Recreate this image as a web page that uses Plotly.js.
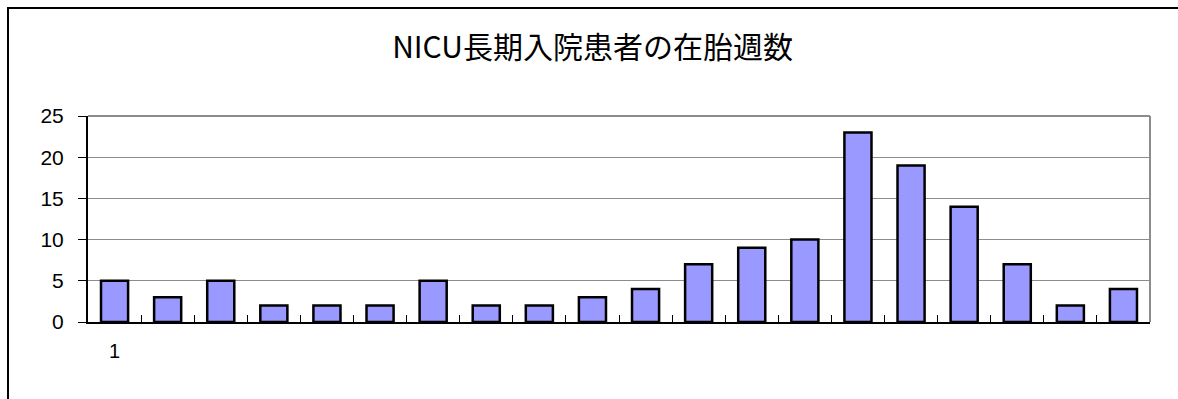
<!DOCTYPE html>
<html>
<head>
<meta charset="utf-8">
<script src="https://cdn.plot.ly/plotly-3.0.1.min.js"></script>
<style>
html,body{margin:0;padding:0;background:#fff;overflow:hidden;}
#chart{position:absolute;left:0;top:0;width:1178px;height:399px;}
#frame{position:absolute;left:7px;top:7px;width:1200px;height:420px;border:2px solid #000;box-sizing:border-box;pointer-events:none;}
</style>
</head>
<body>
<div id="chart"></div>
<div id="frame"></div>
<script>
const categories = ["1","2","3","4","5","6","7","8","9","10","11","12","13","14","15","16","17","18","19","20"];
const tickLabels = ["1","","","","","","","","","","","","","","","","","","",""];
const values = [5,3,5,2,2,2,5,2,2,3,4,7,9,10,23,19,14,7,2,4];
const titleText = "NICU長期入院患者の在胎週数";

const font = "'Liberation Sans', Arial, sans-serif";

Plotly.newPlot('chart', [{
  type: 'bar',
  x: categories,
  y: values,
  marker: {color: '#9999FF', line: {color: '#000', width: 2.5}},
  hoverinfo: 'none'
}], {
  width: 1178, height: 399,
  margin: {l: 88, r: 28, t: 116, b: 77, pad: 0},
  paper_bgcolor: '#fff', plot_bgcolor: '#fff',
  bargap: 0.49,
  showlegend: false,
  title: {text: titleText, font: {family: "'Noto Sans CJK JP', sans-serif", size: 30, color: '#000'}, x: 0.503, xanchor: 'center', y: 0.88, yanchor: 'middle'},
  xaxis: {
    type: 'category',
    tickmode: 'array', tickvals: categories, ticktext: tickLabels,
    tickson: 'boundaries', ticks: 'inside', ticklen: 7, tickcolor: '#000', tickwidth: 1,
    showline: true, linecolor: '#000', linewidth: 2,
    showgrid: false, zeroline: false,
    tickfont: {family: font, size: 20, color: '#000'},
    ticklabelstandoff: 10
  },
  yaxis: {
    range: [0, 25], dtick: 5, tick0: 0,
    ticks: 'outside', ticklen: 8, tickcolor: '#000', tickwidth: 1,
    showline: true, linecolor: '#000', linewidth: 2,
    showgrid: true, gridcolor: '#8c8c8c', gridwidth: 1.3,
    zeroline: false,
    tickfont: {family: font, size: 21, color: '#000'},
    ticklabelstandoff: 10
  },
  shapes: [
    {type: 'line', xref: 'paper', yref: 'paper', x0: 1, x1: 1, y0: 0, y1: 1, line: {color: '#8c8c8c', width: 2}},
    {type: 'line', xref: 'paper', yref: 'paper', x0: 0, x1: 1, y0: 1, y1: 1, line: {color: '#8c8c8c', width: 2}}
  ]
}, {staticPlot: true});
</script>
</body>
</html>
